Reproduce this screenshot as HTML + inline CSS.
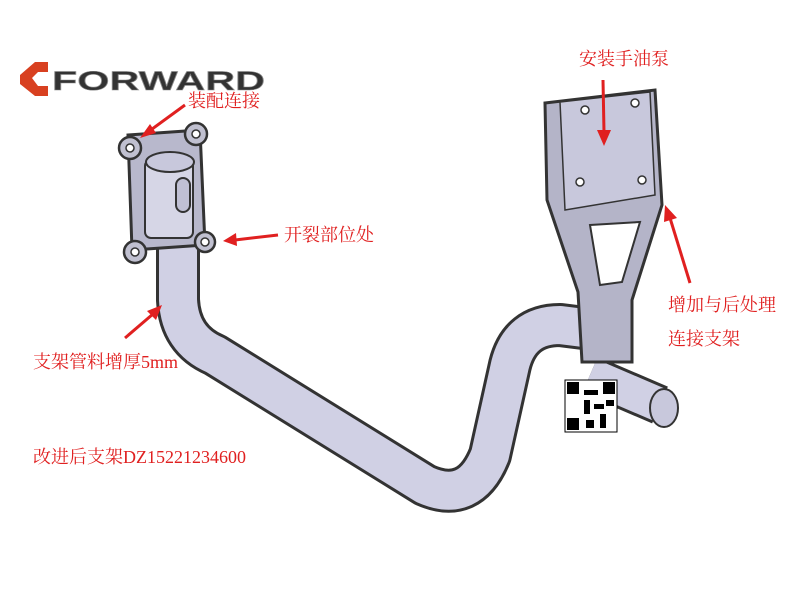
<!DOCTYPE html>
<html><head><meta charset="utf-8"><style>
body{margin:0;background:#fff;width:798px;height:597px;overflow:hidden;position:relative;font-family:"Liberation Serif","Noto Serif CJK SC",serif}
.t{position:absolute;color:#e02020;font-size:18px;white-space:nowrap}
</style></head><body>
<svg width="798" height="597" style="position:absolute;left:0;top:0">
<polygon points="20,75 35,62 48,62 48,72 38,72 32,78 38,86 48,86 48,96 35,96 20,84" fill="#d84020"/>
<text x="52" y="90" font-family="Liberation Sans,sans-serif" font-weight="bold" font-size="27" fill="#333" stroke="#888" stroke-width="0.6" textLength="213" lengthAdjust="spacingAndGlyphs">FORWARD</text>
<path d="M178,240 L178,300 Q180,340 215,355 L425,485 Q470,505 490,455 L510,365 Q520,325 560,325 L600,330" fill="none" stroke="#333" stroke-width="44" stroke-linejoin="round"/>
<path d="M178,240 L178,300 Q180,340 215,355 L425,485 Q470,505 490,455 L510,365 Q520,325 560,325 L600,330" fill="none" stroke="#d0d0e4" stroke-width="38" stroke-linejoin="round"/>
<path d="M590,375 L660,405" stroke="#333" stroke-width="40"/>
<path d="M590,375 L660,405" stroke="#d0d0e4" stroke-width="34"/>
<ellipse cx="664" cy="408" rx="14" ry="19" fill="#c8c8dc" stroke="#333" stroke-width="2"/>
<path d="M128,135 L200,130 L205,245 L132,250 Z" fill="#b8b8cc" stroke="#333" stroke-width="3"/>
<rect x="145" y="160" width="48" height="78" rx="6" fill="#d6d6e6" stroke="#333" stroke-width="2"/>
<ellipse cx="170" cy="162" rx="24" ry="10" fill="#c8c8dc" stroke="#333" stroke-width="2"/>
<rect x="176" y="178" width="14" height="34" rx="7" fill="#c0c0d4" stroke="#333" stroke-width="2"/>
<g fill="#c0c0d0" stroke="#333" stroke-width="2.5"><circle cx="130" cy="148" r="11"/><circle cx="196" cy="134" r="11"/><circle cx="135" cy="252" r="11"/><circle cx="205" cy="242" r="10"/></g>
<g fill="#fff" stroke="#333" stroke-width="1.5"><circle cx="130" cy="148" r="4"/><circle cx="196" cy="134" r="4"/><circle cx="135" cy="252" r="4"/><circle cx="205" cy="242" r="4"/></g>
<path d="M545,103 L655,90 L662,205 L632,300 L632,362 L582,362 L578,292 L547,200 Z" fill="#b4b4c8" stroke="#333" stroke-width="3"/>
<path d="M560,102 L650,92 L655,195 L565,210 Z" fill="#c8c8dc" stroke="#333" stroke-width="1.5"/>
<path d="M590,225 L640,222 L622,282 L600,285 Z" fill="#fff" stroke="#333" stroke-width="2"/>
<g fill="#fff" stroke="#333" stroke-width="1.5"><circle cx="635" cy="103" r="4"/><circle cx="580" cy="182" r="4"/><circle cx="642" cy="180" r="4"/><circle cx="585" cy="110" r="4"/></g>
<rect x="565" y="380" width="52" height="52" fill="#fff" stroke="#000" stroke-width="1"/>
<g fill="#000"><rect x="567" y="382" width="12" height="12"/><rect x="603" y="382" width="12" height="12"/><rect x="567" y="418" width="12" height="12"/><rect x="584" y="390" width="14" height="5"/><rect x="584" y="400" width="6" height="14"/><rect x="594" y="404" width="10" height="5"/><rect x="600" y="414" width="6" height="14"/><rect x="586" y="420" width="8" height="8"/><rect x="606" y="400" width="8" height="6"/></g>
<g fill="#e02020" stroke="#e02020">
<line x1="185" y1="105" x2="148" y2="132" stroke-width="3"/><polygon points="140,138 150,124 156,133" stroke="none"/>
<line x1="278" y1="235" x2="235" y2="240" stroke-width="3"/><polygon points="223,241 236,233 237,246" stroke="none"/>
<line x1="603" y1="80" x2="604" y2="132" stroke-width="3"/><polygon points="604,146 597,130 611,130" stroke="none"/>
<line x1="690" y1="283" x2="670" y2="218" stroke-width="3"/><polygon points="665,205 677,218 664,222" stroke="none"/>
<line x1="125" y1="338" x2="153" y2="314" stroke-width="3"/><polygon points="162,305 156,320 147,311" stroke="none"/>
</g>
</svg>
<div class="t" style="left:188px;top:87px">装配连接</div>
<div class="t" style="left:284px;top:221px">开裂部位处</div>
<div class="t" style="left:579px;top:45px">安装手油泵</div>
<div class="t" style="left:668px;top:291px">增加与后处理</div>
<div class="t" style="left:668px;top:325px">连接支架</div>
<div class="t" style="left:33px;top:348px">支架管料增厚5mm</div>
<div class="t" style="left:33px;top:443px">改进后支架DZ15221234600</div>
</body></html>
